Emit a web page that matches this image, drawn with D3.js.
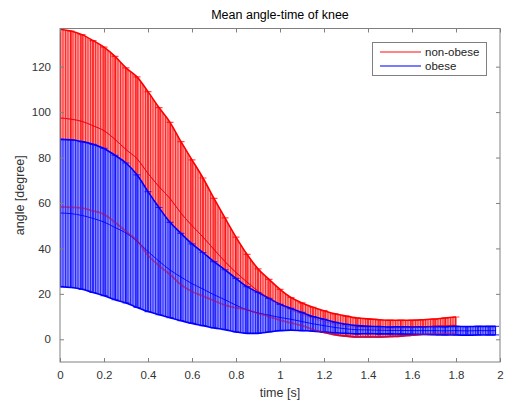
<!DOCTYPE html>
<html>
<head>
<meta charset="utf-8">
<script src="https://cdn.jsdelivr.net/npm/d3@7"></script>
<style>
  body { margin: 0; background: #fff; }
  svg { display: block; font-family: "Liberation Sans", Arial, sans-serif; }
</style>
</head>
<body>
<script>
// data (angle in degree, time in s)
var nonObeseTime = [0,0.05,0.1,0.15,0.2,0.25,0.3,0.35,0.4,0.45,0.5,0.55,0.6,0.65,0.7,0.75,0.8,0.85,0.9,0.95,
                    1,1.05,1.1,1.15,1.2,1.25,1.3,1.35,1.4,1.45,1.5,1.55,1.6,1.65,1.7,1.75,1.8];
var nonObeseMean = [97.4,96.9,95.9,94.0,91.8,88.0,83.5,79.5,73.0,67.2,62.0,55.5,50.0,45.0,39.5,34.2,29.4,25.2,21.2,18.2,
                    15.2,12.8,11.0,9.2,7.8,6.6,5.8,5.2,5.0,4.8,4.8,4.9,5.1,5.4,5.7,6.0,6.2];
var nonObeseStd  = [39.1,38.8,38.2,37.5,36.8,36.5,36.0,36.0,36.0,34.8,33.5,31.5,29.0,26.0,22.5,19.2,15.6,12.2,9.8,8.2,
                    6.8,5.6,5.0,4.9,4.8,4.6,4.4,4.2,4.0,3.8,3.6,3.5,3.3,3.2,3.2,3.4,3.6];

var obeseTime = [0,0.05,0.1,0.15,0.2,0.25,0.3,0.35,0.4,0.45,0.5,0.55,0.6,0.65,0.7,0.75,0.8,0.85,0.9,0.95,
                 1,1.05,1.1,1.15,1.2,1.25,1.3,1.35,1.4,1.45,1.5,1.55,1.6,1.65,1.7,1.75,1.8,1.85,1.9,1.95,1.98];
var obeseMean = [55.6,55.3,54.5,53.2,51.6,49.2,46.8,43.2,38.6,34.4,30.5,27.4,24.5,22.1,19.6,17.4,15.0,12.9,11.6,10.6,
                 9.6,8.8,7.8,6.8,6.0,5.2,4.6,4.2,4.1,4.0,3.9,3.9,3.8,3.8,3.8,3.7,3.8,3.7,3.8,3.8,3.8];
var obeseStd  = [32.4,32.5,32.5,32.6,32.4,31.8,30.8,29.2,26.4,23.6,21.0,19.2,17.5,16.1,14.6,13.2,11.8,10.3,9.0,7.4,
                 5.8,4.8,4.0,3.2,2.8,2.3,2.0,1.8,1.6,1.6,1.5,1.6,1.6,1.7,1.8,1.8,1.9,1.9,1.9,1.9,1.9];

var xTicks = [0,0.2,0.4,0.6,0.8,1,1.2,1.4,1.6,1.8,2];
var yTicks = [0,20,40,60,80,100,120];
var seriesNames = ['non-obese','obese'];

var W = 509, H = 403;
var m = {left: 60, right: 500, top: 28.5, bottom: 362};

var x = d3.scaleLinear().domain([0,2]).range([m.left,m.right]);
var y = d3.scaleLinear().domain([-10,136.8]).range([m.bottom,m.top]);

var svg = d3.select('body').append('svg')
            .attr('width', W)
            .attr('height', H);

var defs = svg.append('defs');
defs.append('clipPath').attr('id','plotclip')
    .append('rect')
    .attr('x', m.left).attr('y', m.top)
    .attr('width', m.right-m.left).attr('height', m.bottom-m.top);

// striped fill to look like the dense error bars
function stripes(id, bg, fg){
    var p = defs.append('pattern')
        .attr('id', id)
        .attr('patternUnits','userSpaceOnUse')
        .attr('width', 2.5).attr('height', 10);
    p.append('rect').attr('width', 2.5).attr('height', 10).attr('fill', bg);
    p.append('rect').attr('width', 1).attr('height', 10).attr('fill', fg);
}
stripes('redStripes', '#ff9c9c', '#ff2020');
stripes('blueStripes', '#8c8cff', '#2020ff');

function makeSeries(t, mean, sd){
    return t.map(function(d,i){ return {t: d, m: mean[i], lo: mean[i]-sd[i], hi: mean[i]+sd[i]}; });
}
var red = makeSeries(nonObeseTime, nonObeseMean, nonObeseStd);
var blue = makeSeries(obeseTime, obeseMean, obeseStd);

var plot = svg.append('g').attr('clip-path','url(#plotclip)');

function lineOf(k){
    return d3.line().curve(d3.curveMonotoneX)
        .x(function(d){ return x(d.t); })
        .y(function(d){ return y(d[k]); });
}

function drawErrorbar(data, color, pattern){
    var g = plot.append('g');
    g.append('path')
        .datum(data)
        .attr('fill', 'url(#' + pattern + ')')
        .attr('d', d3.area().curve(d3.curveMonotoneX)
            .x(function(d){ return x(d.t); })
            .y0(function(d){ return y(d.lo); })
            .y1(function(d){ return y(d.hi); }));
    g.selectAll('line.bar')
        .data(data)
        .enter().append('line')
        .attr('class','bar')
        .attr('x1', function(d){ return x(d.t); })
        .attr('x2', function(d){ return x(d.t); })
        .attr('y1', function(d){ return y(d.lo); })
        .attr('y2', function(d){ return y(d.hi); })
        .attr('stroke', color)
        .attr('stroke-width', 1);
    ['lo','hi'].forEach(function(k){
        g.append('path')
            .datum(data)
            .attr('fill','none')
            .attr('stroke', color)
            .attr('stroke-width', 1.6)
            .attr('d', lineOf(k));
        g.selectAll('line.cap' + k)
            .data(data)
            .enter().append('line')
            .attr('class','cap' + k)
            .attr('x1', function(d){ return x(d.t) - 3.5; })
            .attr('x2', function(d){ return x(d.t) + 3.5; })
            .attr('y1', function(d){ return y(d[k]); })
            .attr('y2', function(d){ return y(d[k]); })
            .attr('stroke', color)
            .attr('stroke-opacity', 0.7)
            .attr('stroke-width', 1.2);
    });
    g.append('path')
        .datum(data)
        .attr('fill','none')
        .attr('stroke', color)
        .attr('stroke-width', 0.9)
        .attr('d', lineOf('m'));
}

drawErrorbar(red, '#ff0000', 'redStripes');
drawErrorbar(blue, '#0000ff', 'blueStripes');

// red lower edge and mean showing through the blue bars
plot.append('path')
    .datum(red)
    .attr('fill','none')
    .attr('stroke','#a0106a')
    .attr('stroke-opacity', 0.6)
    .attr('stroke-width', 1.8)
    .attr('d', lineOf('lo'));
plot.append('path')
    .datum(red)
    .attr('fill','none')
    .attr('stroke','#c00040')
    .attr('stroke-opacity', 0.45)
    .attr('stroke-width', 0.9)
    .attr('d', lineOf('m'));

// axes box, ticks inside on all sides
var axisColor = '#808080';
svg.append('rect')
    .attr('x', m.left).attr('y', m.top)
    .attr('width', m.right-m.left).attr('height', m.bottom-m.top)
    .attr('fill','none')
    .attr('stroke', axisColor)
    .attr('stroke-width', 1);

var xAxisB = d3.axisBottom(x).tickValues(xTicks).tickSizeInner(-4).tickSizeOuter(0).tickPadding(9)
    .tickFormat(function(d){ return String(d); });
var xAxisT = d3.axisTop(x).tickValues(xTicks).tickSizeInner(-4).tickSizeOuter(0).tickFormat('');
var yAxisL = d3.axisLeft(y).tickValues(yTicks).tickSizeInner(-4).tickSizeOuter(0).tickPadding(9);
var yAxisR = d3.axisRight(y).tickValues(yTicks).tickSizeInner(-4).tickSizeOuter(0).tickFormat('');

[[xAxisB,'translate(0,' + m.bottom + ')'],[xAxisT,'translate(0,' + m.top + ')'],
 [yAxisL,'translate(' + m.left + ',0)'],[yAxisR,'translate(' + m.right + ',0)']].forEach(function(a){
    var g = svg.append('g').attr('transform', a[1]).call(a[0]);
    g.select('.domain').remove();
    g.selectAll('line').attr('stroke', axisColor);
    g.selectAll('text')
        .attr('fill','#333')
        .attr('font-size', 11.5)
        .attr('font-family','"Liberation Sans", Arial, sans-serif');
});

// titles
svg.append('text')
    .attr('x', (m.left+m.right)/2).attr('y', 19)
    .attr('text-anchor','middle')
    .attr('font-size', 12.5)
    .attr('fill','#000')
    .text('Mean angle-time of knee');
svg.append('text')
    .attr('x', (m.left+m.right)/2).attr('y', 397)
    .attr('text-anchor','middle')
    .attr('font-size', 12.5)
    .attr('fill','#333')
    .text('time [s]');
svg.append('text')
    .attr('transform','translate(24,' + ((m.top+m.bottom)/2) + ') rotate(-90)')
    .attr('text-anchor','middle')
    .attr('font-size', 12.5)
    .attr('fill','#333')
    .text('angle [degree]');

// legend
var legend = svg.append('g');
legend.append('rect')
    .attr('x', 372.5).attr('y', 42.5)
    .attr('width', 114).attr('height', 33)
    .attr('fill','#fff')
    .attr('stroke', axisColor);
var legendColors = ['#ff5c5c','#4f4fff'];
seriesNames.forEach(function(name, i){
    legend.append('path')
        .attr('d', 'M380,' + (52 + i*14) + 'H421')
        .attr('fill', 'none')
        .attr('stroke', legendColors[i])
        .attr('stroke-width', 1.5);
    legend.append('text')
        .attr('x', 425)
        .attr('y', 56 + i*14)
        .attr('font-size', 11.5)
        .attr('fill','#222')
        .text(name);
});
</script>
</body>
</html>
